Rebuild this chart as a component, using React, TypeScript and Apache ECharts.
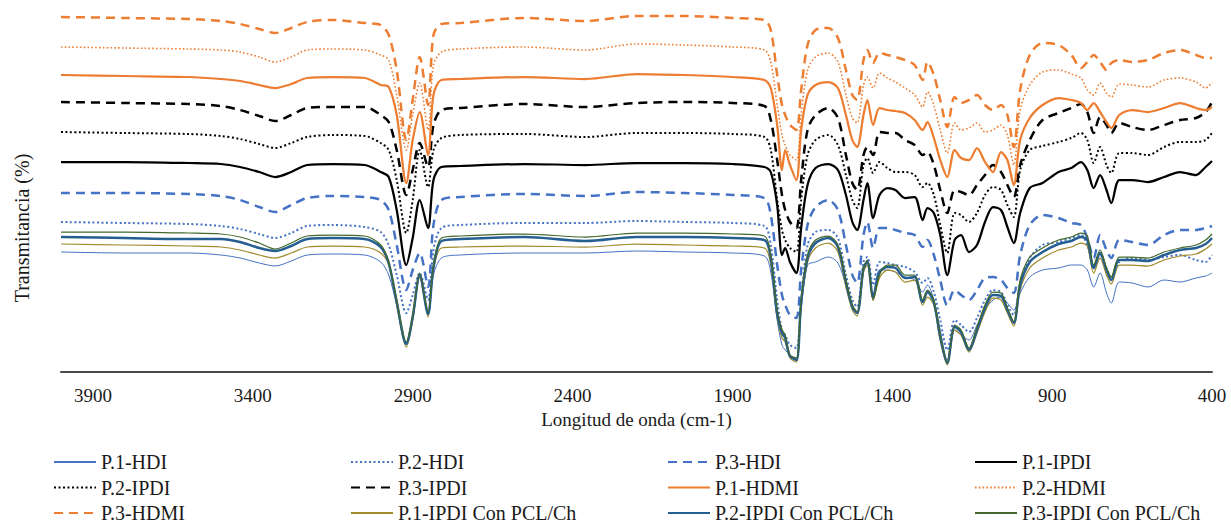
import React, { useEffect, useRef } from "react";
import * as echarts from "echarts";

// Wavenumbers (cm-1) at which each spectrum was read
const wavenumbers = [4000,3800,3600,3500,3440,3380,3330,3280,3230,3150,3050,3000,2975,2950,2920,2900,2878,2852,2835,2810,2750,2550,2360,2200,2050,1900,1800,1780,1760,1745,1735,1720,1700,1685,1665,1640,1600,1570,1545,1525,1510,1490,1478,1460,1440,1415,1390,1360,1330,1305,1290,1270,1250,1228,1205,1185,1160,1135,1110,1085,1060,1040,1020,1000,970,930,880,840,810,790,770,750,730,715,690,650,600,550,500,450,420,400];

// Transmittance (arbitrary offset units, stacked spectra)
const p1HDI = [120,119,119,117,114,109,106,111,117,118,117,110,97,67,29,52,95,57,97,114,117,119,119,121,120,119,116,100,52,27,22,17,12,62,107,110,115,109,87,67,59,100,112,74,102,102,100,95,92,80,87,72,42,12,42,37,32,47,62,72,75,69,62,79,95,102,104,107,107,102,85,99,79,69,90,89,85,92,90,94,96,99];
const p2HDI = [150,149,148,146,143,138,134,139,146,147,145,140,127,97,59,77,99,72,122,144,147,149,149,151,150,149,146,127,72,42,37,27,24,72,127,140,142,134,97,72,65,110,115,87,110,109,107,105,100,89,94,80,52,22,52,47,40,54,72,82,80,67,57,89,114,127,130,134,137,127,107,117,104,95,110,114,112,115,117,112,110,117];
const p3HDI = [179,179,178,176,172,165,160,167,174,176,175,172,162,127,82,102,119,85,147,172,175,178,176,180,179,177,174,157,107,77,67,57,54,102,147,165,172,162,127,97,89,137,150,124,144,144,142,139,137,125,132,117,92,67,82,77,72,82,94,95,92,84,79,117,147,157,154,149,147,134,114,137,122,114,132,130,127,137,142,142,144,146];
const p1IPDI = [210,210,209,208,205,200,195,200,207,208,207,200,195,162,107,134,172,144,192,205,206,208,207,209,209,208,205,200,167,117,124,110,99,144,187,204,208,202,177,150,142,172,189,154,177,184,182,174,175,152,164,159,137,97,132,137,120,127,150,165,162,145,129,159,184,189,200,204,210,202,184,197,182,169,192,192,190,195,200,197,205,211];
const p2IPDI = [240,239,238,236,233,228,224,229,235,237,236,229,222,192,139,172,222,185,222,234,237,238,235,239,239,238,235,222,172,142,132,124,120,172,217,232,237,227,197,172,164,207,214,199,210,204,200,200,197,185,189,177,147,119,159,157,150,159,177,185,182,167,155,202,222,226,230,234,239,232,209,225,207,199,219,219,217,225,230,230,232,239];
const p3IPDI = [270,269,268,266,262,256,251,257,264,265,265,257,250,222,177,202,229,205,247,262,264,268,265,269,270,269,266,252,212,177,162,150,144,192,242,257,264,254,217,189,182,217,225,217,240,239,239,232,227,217,220,207,182,159,182,180,177,187,197,207,200,187,175,207,232,252,259,264,268,260,239,255,247,239,249,245,242,247,252,254,260,270];
const p1HDMI = [297,296,295,293,291,287,284,288,294,295,294,287,285,257,189,232,260,217,277,292,293,295,293,298,297,295,292,284,247,202,222,207,192,242,277,287,290,284,257,232,225,257,272,247,264,262,261,259,252,242,250,234,212,195,222,214,212,224,210,200,220,212,187,232,254,267,274,272,269,262,269,260,250,244,257,262,260,264,269,264,262,265];
const p2HDMI = [325,324,323,322,320,315,310,315,322,323,322,317,312,277,222,257,289,242,307,320,323,325,322,328,327,325,322,310,267,237,227,217,212,257,302,315,319,310,277,254,249,287,295,284,299,294,290,284,277,265,280,267,242,219,249,242,244,249,240,242,247,237,207,262,287,300,302,298,294,282,277,289,279,275,288,287,285,292,294,290,284,290];
const p3HDMI = [355,354,353,351,348,343,339,344,350,352,349,347,337,302,232,272,315,267,337,348,349,354,351,356,356,354,352,342,297,267,257,247,242,282,327,342,344,334,302,277,272,312,322,309,319,317,315,312,307,292,310,297,272,245,275,269,272,277,267,262,267,257,225,282,317,329,327,317,304,310,317,310,302,309,312,310,312,319,322,317,314,314];
const p1IPDIPCL = [128,127,126,125,122,117,114,119,125,126,125,119,107,67,25,52,95,55,102,124,125,126,125,128,127,126,124,107,54,34,30,14,10,67,110,124,129,120,85,62,56,100,107,72,94,102,100,90,92,67,75,67,32,7,42,37,20,39,60,74,72,59,46,82,104,114,122,125,129,126,99,114,97,88,107,107,106,112,116,118,123,128];
const p2IPDIPCL = [135,134,133,133,130,124,121,126,133,134,133,125,109,70,28,55,97,58,105,131,133,135,131,135,135,134,132,114,58,39,34,16,12,70,114,129,134,125,90,65,59,104,110,75,100,105,104,94,95,70,80,70,35,9,45,40,22,42,64,77,76,62,49,87,110,120,128,131,135,132,104,119,102,92,112,112,111,117,122,124,128,134];
const p3IPDIPCL = [140,140,139,138,135,129,123,129,136,137,136,127,110,72,30,57,99,60,107,134,136,138,135,139,139,138,136,117,62,42,37,17,14,72,117,132,136,127,92,67,60,104,112,72,97,107,107,97,97,72,82,72,37,10,47,42,24,45,67,80,79,64,50,92,115,124,132,135,139,136,107,122,104,95,115,115,114,120,124,127,132,138];

const xTickLabels = [400, 900, 1400, 1900, 2400, 2900, 3400, 3900];

const seriesNames = [
  "P.1-HDI", "P.2-HDI", "P.3-HDI",
  "P.1-IPDI", "P.2-IPDI", "P.3-IPDI",
  "P.1-HDMI", "P.2-HDMI", "P.3-HDMI",
  "P.1-IPDI Con PCL/Ch", "P.2-IPDI Con PCL/Ch", "P.3-IPDI Con PCL/Ch",
];
const seriesValues = [p1HDI, p2HDI, p3HDI, p1IPDI, p2IPDI, p3IPDI, p1HDMI, p2HDMI, p3HDMI, p1IPDIPCL, p2IPDIPCL, p3IPDIPCL];

const DASH = [9, 6];
const DOT = [2, 2.5];
const styles: any[] = [
  { color: "#4472C4", width: 1, type: "solid" },
  { color: "#4472C4", width: 2, type: DOT },
  { color: "#4472C4", width: 2.5, type: DASH },
  { color: "#000000", width: 2.25, type: "solid" },
  { color: "#000000", width: 2, type: DOT },
  { color: "#000000", width: 2.5, type: DASH },
  { color: "#ED7D31", width: 2.25, type: "solid" },
  { color: "#ED7D31", width: 1.6, type: [1.6, 2.2] },
  { color: "#ED7D31", width: 2.5, type: DASH },
  { color: "#A08A2C", width: 1.25, type: "solid" },
  { color: "#255E91", width: 2.5, type: "solid" },
  { color: "#43682B", width: 1.25, type: "solid" },
];

const FONT = "'Liberation Serif', 'Times New Roman', serif";

export default function App() {
  const ref = useRef<HTMLDivElement>(null);
  useEffect(() => {
    document.body.style.margin = "0";
    const chart = echarts.init(ref.current!, undefined, { renderer: "svg" });
    const series = seriesNames.map((name, i) => ({
      name,
      type: "line",
      symbol: "none",
      showSymbol: false,
      smooth: 0.3,
      data: wavenumbers.map((w, j) => [w, seriesValues[i][j]]),
      lineStyle: { color: styles[i].color, width: styles[i].width, type: styles[i].type },
      itemStyle: { color: styles[i].color },
      emphasis: { disabled: true },
    }));
    const cols = [
      { names: [seriesNames[0], seriesNames[4], seriesNames[8]], left: 53 },
      { names: [seriesNames[1], seriesNames[5], seriesNames[9]], left: 350 },
      { names: [seriesNames[2], seriesNames[6], seriesNames[10]], left: 667 },
      { names: [seriesNames[3], seriesNames[7], seriesNames[11]], left: 974 },
    ];
    chart.setOption({
      animation: false,
      backgroundColor: "#ffffff",
      grid: { left: 61, right: 19, top: 12, bottom: 155 },
      xAxis: {
        type: "value",
        inverse: true,
        min: 400,
        max: 4000,
        axisLine: { show: true, lineStyle: { color: "#4a4a4a", width: 2 } },
        axisTick: { show: false },
        splitLine: { show: false },
        axisLabel: {
          customValues: xTickLabels,
          formatter: (v: number) => String(v),
          margin: 14,
          color: "#1a1a1a",
          fontFamily: FONT,
          fontSize: 19,
        },
        name: "Longitud de onda (cm-1)",
        nameLocation: "middle",
        nameGap: 34,
        nameTextStyle: { color: "#1a1a1a", fontFamily: FONT, fontSize: 19 },
      },
      yAxis: {
        type: "value",
        min: 0,
        max: 360,
        show: false,
      },
      legend: cols.map((c) => ({
        data: c.names.map((n) => ({ name: n, itemStyle: { opacity: 0 } })),
        orient: "vertical",
        left: c.left,
        top: 452,
        itemWidth: 42,
        itemHeight: 14,
        itemGap: 5.5,
        padding: 0,
        itemStyle: { opacity: 0 },
        textStyle: { color: "#1a1a1a", fontFamily: FONT, fontSize: 20, lineHeight: 20 },
      })),
      graphic: [
        {
          type: "text",
          x: 22,
          y: 228,
          rotation: Math.PI / 2,
          style: {
            text: "Transmitancia (%)",
            font: `20px ${FONT}`,
            fill: "#1a1a1a",
            textAlign: "center",
            textVerticalAlign: "middle",
          },
        },
      ],
      series,
    });
    return () => chart.dispose();
  }, []);
  return <div ref={ref} style={{ width: 1231, height: 527 }} />;
}
